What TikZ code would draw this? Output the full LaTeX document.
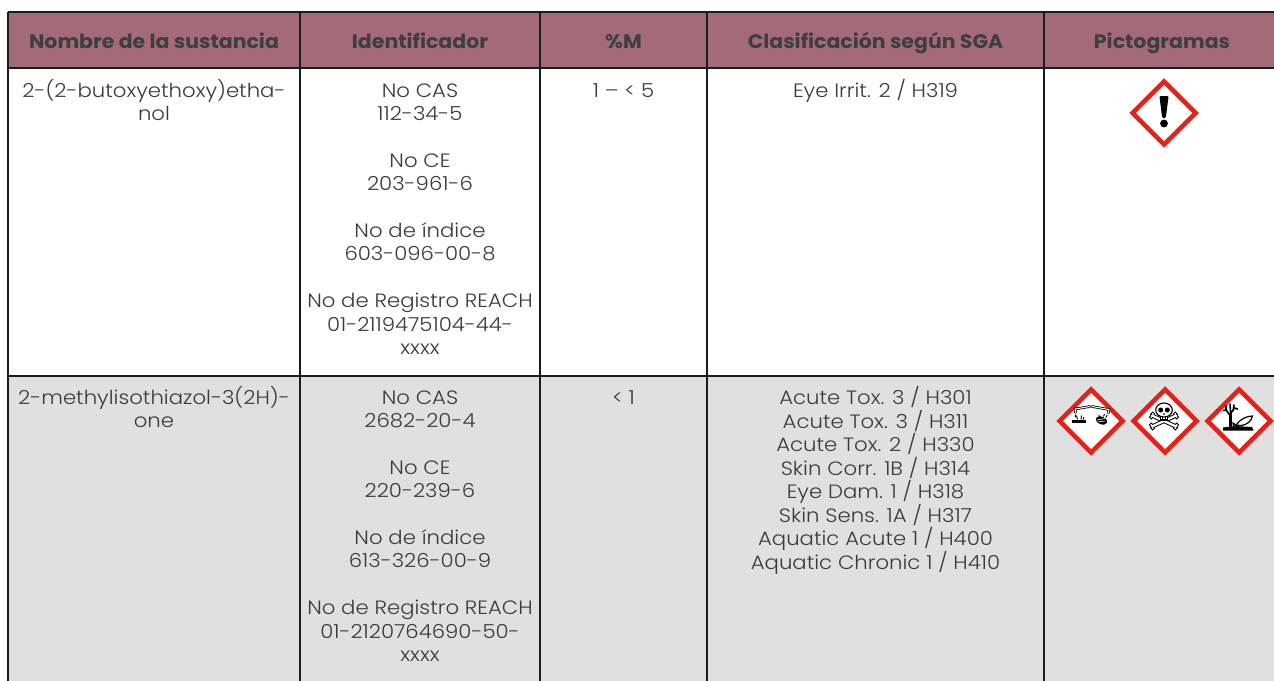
\documentclass[tikz,border=0pt]{standalone}
\usepackage{fontspec}
\setmainfont{Poppins}[UprightFont=* Light, BoldFont=* SemiBold, FakeStretch=1.1]
\newfontfamily\hdrfont{Poppins}[UprightFont=* Bold, FakeStretch=1.05]
\definecolor{hdr}{HTML}{A36B78}
\definecolor{rowgray}{HTML}{E0E0E0}
\definecolor{gridc}{HTML}{1C1C1C}
\definecolor{bodyc}{HTML}{3A3A3A}
\definecolor{hdrtxt}{HTML}{3E3E3E}
\definecolor{ghsred}{HTML}{E2231A}
\tikzset{
  bodytxt/.style={font=\fontsize{19.3}{22}\selectfont, text=bodyc, anchor=base, inner sep=0pt},
  hdrtxtst/.style={font=\hdrfont\fontsize{19.5}{22}\selectfont, text=hdrtxt, anchor=base, inner sep=0pt},
  gridline/.style={draw=gridc, line width=1.5pt},
  ghsframe/.pic={\path[fill=white, draw=ghsred, line width=4.6pt, line join=miter] (0,-31.5) -- (31.5,0) -- (0,31.5) -- (-31.5,0) -- cycle;},
  ghsexcl/.pic={
    \pic {ghsframe};
    \fill[rounded corners=1.2pt] (-4.6,-17) -- (4.6,-17) -- (1.8,5) -- (-1.8,5) -- cycle;
    \fill (0,10.5) circle (3.9);
  },
  ghscorr/.pic={
    \pic {ghsframe};
    \draw[line width=2.6pt, line cap=round] (-15.5,-8.5) -- (-16,-12) -- (-1,-14.5);
    \draw[white, line width=1pt, line cap=round] (-15.5,-8.5) -- (-16,-12) -- (-1,-14.5);
    \draw[line width=2.6pt, line cap=round] (1,-14.5) -- (18,-11.5) -- (17.5,-8);
    \draw[white, line width=1pt, line cap=round] (1,-14.5) -- (18,-11.5) -- (17.5,-8);
    \fill (-19,-1.5) rectangle (-5.5,1.8);
    \draw[line width=0.9pt] (-15.5,-6.5) -- (-15.5,-4) (-13.5,-1.5) -- (-14.5,-5.5) (-10,-1.5) -- (-9.5,-5.5) (-8,-1.5) -- (-7,-4);
    \fill[rotate around={-20:(10.5,-0.5)}] (10.5,-0.5) ellipse (6 and 3.8);
    \draw[white, line width=0.6pt] (6,-1) -- (14,-2.5) (6.5,1) -- (14,0);
    \draw[line width=0.9pt] (13.5,-7) -- (12.5,-4.5) (16,-6) -- (15,-3.5) (8,-6) -- (8.5,-3.5);
  },
  ghsskull/.pic={
    \pic {ghsframe};
    \draw[line width=4.2pt, line cap=round] (-13,-5.5) -- (11,5.5) (-13,5.5) -- (11,-5.5);
    \foreach \px/\py in {-13.75/-3.9, -12.25/-7.1, 10.25/7.1, 11.75/3.9, -13.75/3.9, -12.25/7.1, 10.25/-7.1, 11.75/-3.9}
      \draw[fill=white, line width=0.8pt] (\px,\py) circle (1.9);
    \draw[white, line width=2.2pt, line cap=round] (-13,-5.5) -- (11,5.5) (-13,5.5) -- (11,-5.5);
    \draw[fill=white, line width=1.1pt] (-4.5,-5) rectangle (2.5,-1);
    \draw[line width=0.7pt] (-2.2,-5) -- (-2.2,-1) (0.2,-5) -- (0.2,-1);
    \draw[fill=white, line width=1.1pt] (-1,-11) ellipse (8.3 and 7);
    \fill (-4.3,-11) circle (2.5);
    \fill (2.3,-11) circle (2.5);
    \fill (-1,-8.5) -- (0,-6.3) -- (-2,-6.3) -- cycle;
  },
  ghsenv/.pic={
    \pic {ghsframe};
    \fill (-16,6.5) -- (-4,5) -- (13,6) -- (14.5,9.5) -- (-16,9.5) -- cycle;
    \draw[line width=2.6pt] (-8.5,6) -- (-8.5,-8.5);
    \draw[line width=1.6pt, line cap=round] (-8.5,-5) -- (-13,-11) (-13,-11) -- (-15.5,-10.5) (-13,-11) -- (-13,-15)
      (-8.5,-7.5) -- (-4.5,-13) (-4.5,-13) -- (-1.5,-12) (-8.5,-9) -- (-9,-17) (-6,-10) -- (-5,-16);
    \draw[fill=white, line width=1.2pt] (-3,4) .. controls (1,-2) and (8,-5) .. (13.5,-5)
      .. controls (12.5,0) and (8,4) .. (2,4.5) -- cycle;
    \draw[line width=1.2pt] (-3,4) -- (-6,2) -- (-5.5,6) -- cycle;
  }
}
\begin{document}
\begin{tikzpicture}[x=1pt,y=-1pt]
\useasboundingbox[fill=white] (0,0) rectangle (1274,680);
\begin{scope}
\clip (0,0) rectangle (1274,680);
\fill[hdr] (8,12) rectangle (1290,68);
\fill[rowgray] (8,376) rectangle (1290,700);
\draw[gridline] (8,12) -- (1290,12);
\draw[gridline] (8,68) -- (1290,68);
\draw[gridline] (8,376) -- (1290,376);
\foreach \cx in {8,300,540,707,1044}
  \draw[gridline] (\cx,12) -- (\cx,700);
\end{scope}

% header
\node[hdrtxtst] (h1) at (154,48.5) {Nombre de la sustancia};
\node[hdrtxtst] (h2) at (420,48.5) {Identificador};
\node[hdrtxtst] (h3) at (623.5,48.5) {\%M};
\node[hdrtxtst] (h4) at (875.5,48.5) {Clasificación según SGA};
\node[hdrtxtst] (h5) at (1162,48.5) {Pictogramas};

% row 1
\node[bodytxt] (r1a1) at (154,97.5) {2-(2-butoxyethoxy)etha-};
\node[bodytxt] (r1a2) at (154,120.85) {nol};
\foreach \t [count=\i] in {{No CAS},{112-34-5},{},{No CE},{203-961-6},{},{No de índice},{603-096-00-8},{},{No de Registro REACH},{01-2119475104-44-},{xxxx}}
  \node[bodytxt] (r1b\i) at (420,{97.5+(\i-1)*23.35}) {\t};
\node[bodytxt] (r1c) at (623.5,97.5) {1 – < 5};
\node[bodytxt] (r1d) at (875.5,97.5) {Eye Irrit. 2 / H319};
\pic (p1) at (1164,113) {ghsexcl};

% row 2
\node[bodytxt] (r2a1) at (154,404.5) {2-methylisothiazol-3(2H)-};
\node[bodytxt] (r2a2) at (154,427.85) {one};
\foreach \t [count=\i] in {{No CAS},{2682-20-4},{},{No CE},{220-239-6},{},{No de índice},{613-326-00-9},{},{No de Registro REACH},{01-2120764690-50-},{xxxx}}
  \node[bodytxt] (r2b\i) at (420,{404.5+(\i-1)*23.35}) {\t};
\node[bodytxt] (r2c) at (623.5,404.5) {< 1};
\foreach \t [count=\i] in {{Acute Tox. 3 / H301},{Acute Tox. 3 / H311},{Acute Tox. 2 / H330},{Skin Corr. 1B / H314},{Eye Dam. 1 / H318},{Skin Sens. 1A / H317},{Aquatic Acute 1 / H400},{Aquatic Chronic 1 / H410}}
  \node[bodytxt] (r2d\i) at (875.5,{404.5+(\i-1)*23.5}) {\t};
\pic (p2) at (1091,421) {ghscorr};
\pic (p3) at (1165,421) {ghsskull};
\pic (p4) at (1239,421) {ghsenv};
\end{tikzpicture}
\end{document}
